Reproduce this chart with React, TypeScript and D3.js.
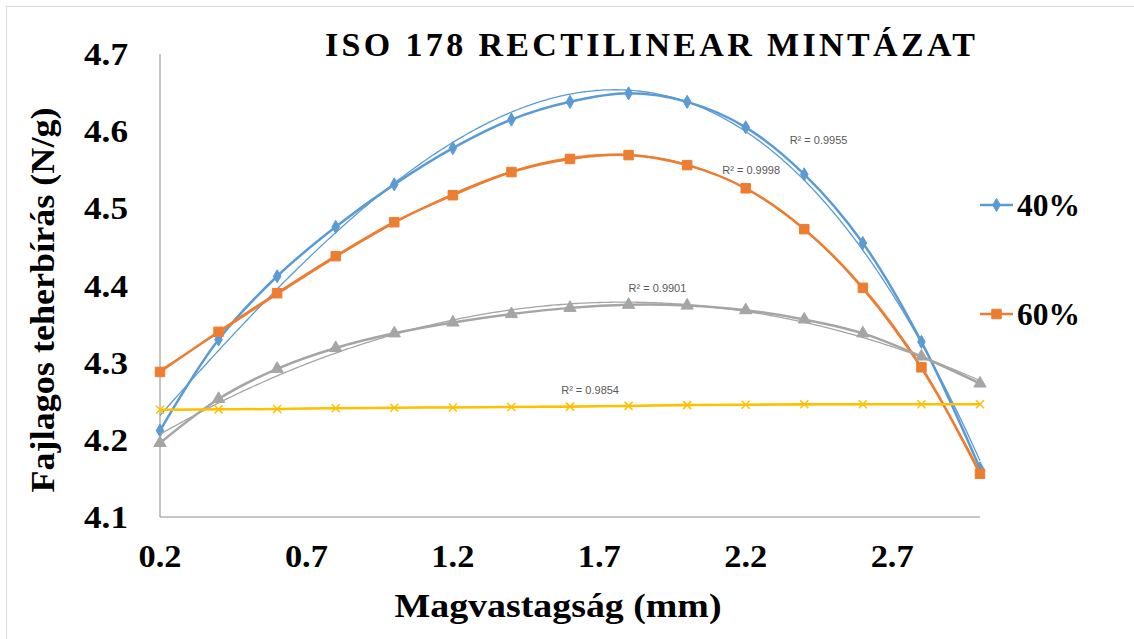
import React from 'react';
import * as d3 from 'd3';

const xValues = [0.2, 0.4, 0.6, 0.8, 1.0, 1.2, 1.4, 1.6, 1.8, 2.0, 2.2, 2.4, 2.6, 2.8, 3.0];
const series40 = [4.212, 4.330, 4.412, 4.476, 4.531, 4.578, 4.615, 4.638, 4.649, 4.638, 4.605, 4.544, 4.455, 4.327, 4.163];
const series60 = [4.288, 4.340, 4.390, 4.438, 4.482, 4.517, 4.547, 4.564, 4.569, 4.556, 4.526, 4.473, 4.397, 4.294, 4.156];
const seriesGray = [4.196, 4.253, 4.292, 4.319, 4.338, 4.352, 4.363, 4.371, 4.375, 4.374, 4.368, 4.356, 4.338, 4.308, 4.273];
const seriesYellow = [4.239, 4.2395, 4.240, 4.241, 4.2415, 4.242, 4.2425, 4.243, 4.244, 4.245, 4.2455, 4.246, 4.246, 4.246, 4.246];
const yTicks = [4.1, 4.2, 4.3, 4.4, 4.5, 4.6, 4.7];
const xTicks = [0.2, 0.7, 1.2, 1.7, 2.2, 2.7];
const legendNames = ['40%', '60%'];
const r2Texts = ['R² = 0.9955', 'R² = 0.9998', 'R² = 0.9901', 'R² = 0.9854'];
const r2Anchors = [[2.35, 4.588], [2.12, 4.550], [1.8, 4.397], [1.57, 4.264]];

const W = 1134, H = 639;
const x = d3.scaleLinear().domain([0.2, 3.0]).range([160, 980]);
const y = d3.scaleLinear().domain([4.1, 4.7]).range([517, 54]);

function polyfit(xs: number[], ys: number[], order: number) {
  const n = order + 1;
  const A: number[][] = Array.from({ length: n }, () => new Array(n + 1).fill(0));
  for (let i = 0; i < xs.length; i++) {
    for (let r = 0; r < n; r++) {
      for (let c = 0; c < n; c++) A[r][c] += Math.pow(xs[i], r + c);
      A[r][n] += ys[i] * Math.pow(xs[i], r);
    }
  }
  for (let i = 0; i < n; i++) {
    let p = i;
    for (let k = i + 1; k < n; k++) if (Math.abs(A[k][i]) > Math.abs(A[p][i])) p = k;
    [A[i], A[p]] = [A[p], A[i]];
    for (let k = i + 1; k < n; k++) {
      const f = A[k][i] / A[i][i];
      for (let j = i; j <= n; j++) A[k][j] -= f * A[i][j];
    }
  }
  const coef = new Array(n).fill(0);
  for (let i = n - 1; i >= 0; i--) {
    let s = A[i][n];
    for (let j = i + 1; j < n; j++) s -= A[i][j] * coef[j];
    coef[i] = s / A[i][i];
  }
  return (t: number) => coef.reduce((acc, c, k) => acc + c * Math.pow(t, k), 0);
}

const seriesDefs = [
  { values: series40, color: '#5B9BD5', marker: 'diamond', order: 3 },
  { values: series60, color: '#ED7D31', marker: 'square', order: 3 },
  { values: seriesGray, color: '#A5A5A5', marker: 'triangle', order: 2 },
  { values: seriesYellow, color: '#FFC000', marker: 'x', order: 2 },
];

const lineGen = d3.line<[number, number]>().x(d => x(d[0])).y(d => y(d[1])).curve(d3.curveCatmullRom.alpha(0.5));
const trendGen = d3.line<[number, number]>().x(d => x(d[0])).y(d => y(d[1]));

function Marker({ type, cx, cy, color }: { type: string; cx: number; cy: number; color: string }) {
  if (type === 'x') {
    const s = 4;
    return (
      <path d={`M${cx - s},${cy - s}L${cx + s},${cy + s}M${cx - s},${cy + s}L${cx + s},${cy - s}`} stroke={color} strokeWidth={1.5} fill="none" />
    );
  }
  const sym = type === 'diamond' ? d3.symbolDiamond : type === 'square' ? d3.symbolSquare : d3.symbolTriangle;
  const size = type === 'diamond' ? 50 : type === 'square' ? 90 : 65;
  const d = d3.symbol(sym, size)() as string;
  return <path d={d} transform={`translate(${cx},${cy})`} fill={color} stroke={color} strokeWidth={1} />;
}

export default function App() {
  const serif = '"Liberation Serif", "Times New Roman", serif';
  const fine = d3.range(0.2, 3.0001, 0.01);
  return (
    <div style={{ position: 'absolute', left: 0, top: 0 }}>
      <svg width={W} height={H} style={{ display: 'block', background: '#fff' }}>
        <rect x={6.5} y={6.5} width={1200} height={700} fill="#fff" stroke="#d9d9d9" strokeWidth={1} />
        <text x={325} y={56} fontFamily={serif} fontWeight="bold" fontSize={34} letterSpacing={3.35} fill="#000">ISO 178 RECTILINEAR MINTÁZAT</text>

        <line x1={x(0.2)} x2={x(0.2)} y1={y(4.1)} y2={y(4.7)} stroke="#8c8c8c" strokeWidth={1} />
        <line x1={x(0.2)} x2={x(3.0)} y1={y(4.1)} y2={y(4.1)} stroke="#8c8c8c" strokeWidth={1} />

        {yTicks.map(t => (
          <text key={t} x={128} y={y(t) + 11} textAnchor="end" fontFamily={serif} fontWeight="bold" fontSize={32} textLength={44} lengthAdjust="spacingAndGlyphs" fill="#000">{t.toFixed(1)}</text>
        ))}
        {xTicks.map(t => (
          <text key={t} x={x(t)} y={567} textAnchor="middle" fontFamily={serif} fontWeight="bold" fontSize={32} textLength={43} lengthAdjust="spacingAndGlyphs" fill="#000">{t.toFixed(1)}</text>
        ))}

        <text x={558} y={617} textAnchor="middle" fontFamily={serif} fontWeight="bold" fontSize={33} textLength={327} lengthAdjust="spacingAndGlyphs" fill="#000">Magvastagság (mm)</text>
        <text transform="translate(54,300) rotate(-90)" textAnchor="middle" fontFamily={serif} fontWeight="bold" fontSize={33} textLength={385} lengthAdjust="spacingAndGlyphs" fill="#000">Fajlagos teherbírás (N/g)</text>

        {seriesDefs.map((s, i) => {
          const pts = xValues.map((xv, k) => [xv, s.values[k]] as [number, number]);
          const f = polyfit(xValues, s.values, s.order);
          const trend = fine.map(t => [t, f(t)] as [number, number]);
          return (
            <g key={i}>
              <path d={lineGen(pts) as string} fill="none" stroke={s.color} strokeWidth={2.5} />
              <path d={trendGen(trend) as string} fill="none" stroke={s.color} strokeWidth={1.3} />
              {pts.map((p, k) => (
                <Marker key={k} type={s.marker} cx={x(p[0])} cy={y(p[1])} color={s.color} />
              ))}
            </g>
          );
        })}

        {r2Texts.map((t, i) => (
          <text key={t} x={x(r2Anchors[i][0])} y={y(r2Anchors[i][1]) + 4} fontFamily='"Liberation Sans", Arial, sans-serif' fontSize={11} fill="#595959">{t}</text>
        ))}

        {legendNames.map((n, i) => {
          const ly = i === 0 ? 205 : 314;
          const s = seriesDefs[i];
          return (
            <g key={n}>
              <line x1={980} x2={1013} y1={ly} y2={ly} stroke={s.color} strokeWidth={2.5} />
              <Marker type={s.marker} cx={996.5} cy={ly} color={s.color} />
              <text x={1017} y={ly + 11} fontFamily={serif} fontWeight="bold" fontSize={32} textLength={63} lengthAdjust="spacingAndGlyphs" fill="#000">{n}</text>
            </g>
          );
        })}
      </svg>
    </div>
  );
}
